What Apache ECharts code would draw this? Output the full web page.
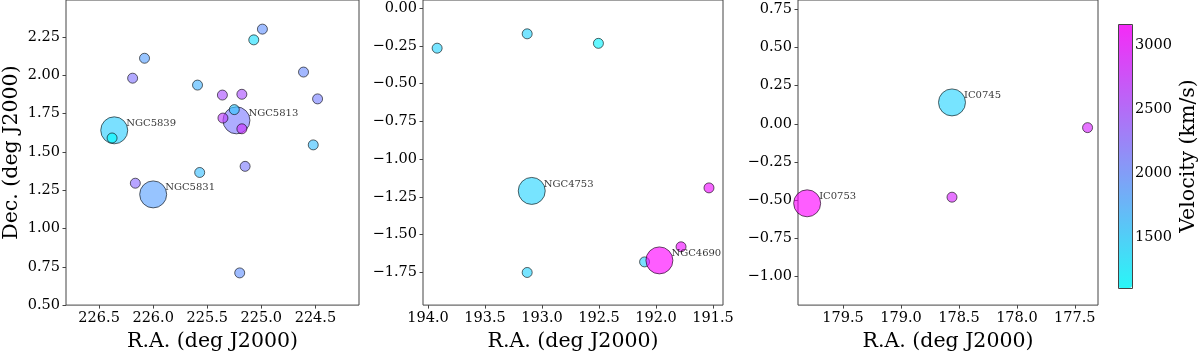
<!DOCTYPE html>
<html>
<head>
<meta charset="utf-8">
<script src="https://cdn.jsdelivr.net/npm/echarts@6/dist/echarts.min.js"></script>
<style>
  html, body { margin: 0; padding: 0; background: #fff; }
  #chart { width: 1200px; height: 357px; }
</style>
</head>
<body>
<div id="chart"></div>
<script>
// group 1 (NGC5813 / NGC5831 / NGC5839 field)
const g1Ra = [226.36, 226.00, 225.23, 224.99, 225.07, 226.08, 226.19, 225.59, 224.61, 224.48,
  225.36, 225.18, 225.25, 225.355, 225.18, 226.38, 224.52, 225.57, 225.15, 226.165, 225.20]
const g1Dec = [1.64, 1.222, 1.705, 2.30, 2.23, 2.11, 1.98, 1.935, 2.02, 1.845,
  1.87, 1.875, 1.775, 1.72, 1.65, 1.59, 1.545, 1.365, 1.405, 1.295, 0.71]
const g1Vel = [1500, 1850, 2150, 1950, 1350, 1850, 2200, 1700, 2000, 2100,
  2500, 2500, 1550, 2650, 2750, 1110, 1600, 1600, 2150, 2250, 1950]
const g1Name = ['NGC5839', 'NGC5831', 'NGC5813', '', '', '', '', '', '', '',
  '', '', '', '', '', '', '', '', '', '', '']

// group 2 (NGC4753 / NGC4690 field)
const g2Ra = [193.92, 193.13, 192.505, 193.09, 191.535, 193.13, 192.10, 191.97, 191.78]
const g2Dec = [-0.265, -0.17, -0.233, -1.21, -1.19, -1.75, -1.68, -1.67, -1.58]
const g2Vel = [1450, 1450, 1200, 1450, 3050, 1450, 1500, 3150, 3050]
const g2Name = ['', '', '', 'NGC4753', '', '', '', 'NGC4690', '']

// group 3 (IC0745 / IC0753 field)
const g3Ra = [178.56, 177.39, 179.81, 178.56]
const g3Dec = [0.14, -0.025, -0.52, -0.48]
const g3Vel = [1450, 2850, 3150, 2850]
const g3Name = ['IC0745', '', 'IC0753', '']

// axis ticks
const x1Ticks = [224.5, 225.0, 225.5, 226.0, 226.5]
const y1Ticks = [0.5, 0.75, 1.0, 1.25, 1.5, 1.75, 2.0, 2.25]
const x2Ticks = [191.5, 192.0, 192.5, 193.0, 193.5, 194.0]
const y2Ticks = [-1.75, -1.5, -1.25, -1.0, -0.75, -0.5, -0.25, 0]
const x3Ticks = [177.5, 178.0, 178.5, 179.0, 179.5]
const y3Ticks = [-1.0, -0.75, -0.5, -0.25, 0, 0.25, 0.5, 0.75]
const cbTicks = [1500, 2000, 2500, 3000]
const velMin = 1101
const velMax = 3170

const FONT = 'DejaVu Serif'
const INK = '#444'
const TXT = '#000'

function fmt(d) {
  return v => {
    const s = Math.abs(v).toFixed(d)
    return v < -1e-9 ? '\u2212' + s : s
  }
}

function rows(ra, dec, vel, name) {
  return ra.map((r, i) => [r, dec[i], vel[i], name[i]])
}

function xAxis(idx, min, max, ticks) {
  return {
    gridIndex: idx, type: 'value', inverse: true, min: min, max: max,
    name: 'R.A. (deg J2000)', nameLocation: 'middle', nameGap: 18,
    nameTextStyle: { fontFamily: FONT, fontSize: 20.5, color: TXT },
    splitLine: { show: false },
    axisLine: { show: false, onZero: false },
    axisTick: { show: true, length: 3.5, lineStyle: { color: INK }, customValues: ticks },
    axisLabel: { fontFamily: FONT, fontSize: 14.5, color: TXT, margin: 6,
      customValues: ticks, formatter: fmt(1) }
  }
}

function yAxis(idx, min, max, ticks, title) {
  return {
    gridIndex: idx, type: 'value', min: min, max: max,
    name: title, nameLocation: 'middle', nameGap: 44, nameRotate: 90,
    nameTextStyle: { fontFamily: FONT, fontSize: 20.5, color: TXT },
    splitLine: { show: false },
    axisLine: { show: false, onZero: false },
    axisTick: { show: true, length: 3.5, lineStyle: { color: INK }, customValues: ticks },
    axisLabel: { fontFamily: FONT, fontSize: 14.5, color: TXT, margin: 6,
      customValues: ticks, formatter: fmt(2) }
  }
}

function scatter(idx, data) {
  return {
    type: 'scatter', xAxisIndex: idx, yAxisIndex: idx, data: data,
    symbolSize: d => (d[3] ? 27 : 10),
    itemStyle: { borderColor: 'rgba(0,0,0,0.75)', borderWidth: 1 },
    label: {
      show: true, position: 'right', distance: 0, offset: [-2, -7],
      formatter: p => p.data[3],
      fontFamily: FONT, fontSize: 10, color: TXT
    },
    emphasis: { disabled: true }
  }
}

const chart = echarts.init(document.getElementById('chart'), null, { renderer: 'canvas' })
const gridBase = { show: true, borderColor: INK, borderWidth: 1, backgroundColor: 'transparent' }

chart.setOption({
  animation: false,
  grid: [
    Object.assign({ left: 63, top: 0, width: 296, height: 311 }, gridBase),
    Object.assign({ left: 423, top: 0, width: 300, height: 311 }, gridBase),
    Object.assign({ left: 798, top: 0, width: 300, height: 311 }, gridBase),
    { left: 1118, top: 24, width: 14, height: 264, show: false }
  ],
  xAxis: [
    xAxis(0, 224.097, 226.806, x1Ticks),
    xAxis(1, 191.412, 194.044, x2Ticks),
    xAxis(2, 177.30, 179.889, x3Ticks),
    { gridIndex: 3, type: 'value', min: 0, max: 1, show: false }
  ],
  yAxis: [
    yAxis(0, 0.5, 2.49, y1Ticks, 'Dec. (deg J2000)'),
    yAxis(1, -1.966, 0.054, y2Ticks, ''),
    yAxis(2, -1.186, 0.81, y3Ticks, ''),
    {
      gridIndex: 3, type: 'value', position: 'right', min: velMin, max: velMax,
      name: 'Velocity (km/s)', nameLocation: 'middle', nameGap: 48, nameRotate: 90,
      nameTextStyle: { fontFamily: FONT, fontSize: 20.5, color: TXT },
      splitLine: { show: false },
      axisLine: { show: false, onZero: false },
      axisTick: { show: true, length: 3, lineStyle: { color: INK }, customValues: cbTicks },
      axisLabel: { fontFamily: FONT, fontSize: 14.5, color: TXT, margin: 5,
        customValues: cbTicks, formatter: v => String(v) }
    }
  ],
  visualMap: {
    type: 'continuous', dimension: 2, seriesIndex: [0, 1, 2],
    min: velMin, max: velMax, calculable: false, hoverLink: false,
    orient: 'vertical', left: 1118, top: 24, padding: 0,
    itemWidth: 14, itemHeight: 264, text: null,
    inRange: { color: ['rgba(0,255,255,0.8)', 'rgba(255,0,255,0.8)'] }
  },
  graphic: [{
    type: 'rect', z: 100, silent: true,
    shape: { x: 1118.5, y: 24.5, width: 14, height: 264 },
    style: { fill: null, stroke: INK, lineWidth: 1 }
  }],
  series: [
    scatter(0, rows(g1Ra, g1Dec, g1Vel, g1Name)),
    scatter(1, rows(g2Ra, g2Dec, g2Vel, g2Name)),
    scatter(2, rows(g3Ra, g3Dec, g3Vel, g3Name))
  ]
})
</script>
</body>
</html>
